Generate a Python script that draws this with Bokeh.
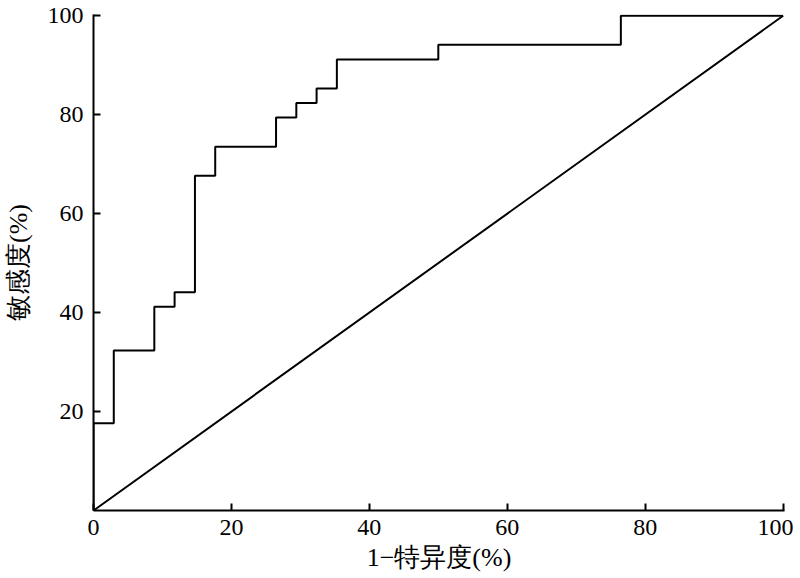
from bokeh.plotting import figure
from bokeh.embed import file_html
from bokeh.resources import INLINE
from bokeh.models import Range1d, FixedTicker

# ROC curve data (1 - specificity %, sensitivity %)
fpr = [0, 2.94, 8.82, 11.76, 14.71, 17.65, 26.47, 29.41, 32.35, 35.29, 50.0, 76.47, 100]
tpr = [17.65, 32.35, 41.18, 44.12, 67.65, 73.53, 79.41, 82.35, 85.29, 91.18, 94.12, 100, 100]
ref_x = [0, 100]
ref_y = [0, 100]
x_ticks = [0, 20, 40, 60, 80, 100]
y_ticks = [20, 40, 60, 80, 100]
x_label = "1−特异度(%)"
y_label = "敏感度(%)"

FONT = "Liberation Serif"

p = figure(
    output_backend="svg", toolbar_location=None,
    width=784, height=562,
    frame_width=691, frame_height=496,
    min_border_left=84, min_border_right=9, min_border_top=14, min_border_bottom=52,
    x_range=Range1d(0, 100.2), y_range=Range1d(0, 100.25),
)
p.outline_line_color = None
p.grid.visible = False

p.step(fpr, tpr, mode="after", line_color="black", line_width=2)
p.line([0, 0], [0, tpr[0]], line_color="black", line_width=2)
p.line(ref_x, ref_y, line_color="black", line_width=2)

for ax in (p.xaxis[0], p.yaxis[0]):
    ax.axis_line_width = 2
    ax.axis_line_color = "black"
    ax.major_tick_in = 7
    ax.major_tick_out = 0
    ax.major_tick_line_width = 2
    ax.minor_tick_in = 0
    ax.minor_tick_out = 0
    ax.major_label_text_font = FONT
    ax.major_label_text_font_size = "24px"
    ax.major_label_text_color = "black"
    ax.axis_label_text_font = FONT
    ax.axis_label_text_font_size = "26px"
    ax.axis_label_text_font_style = "normal"
    ax.axis_label_text_color = "black"

p.xaxis[0].major_label_standoff = 9
p.yaxis[0].major_label_standoff = 10
p.xaxis[0].ticker = FixedTicker(ticks=x_ticks)
p.yaxis[0].ticker = FixedTicker(ticks=y_ticks)
p.xaxis[0].axis_label = x_label
p.yaxis[0].axis_label = y_label
p.xaxis[0].axis_label_standoff = 5
p.yaxis[0].axis_label_standoff = 12

open("out.html", "w").write(file_html(p, INLINE))
